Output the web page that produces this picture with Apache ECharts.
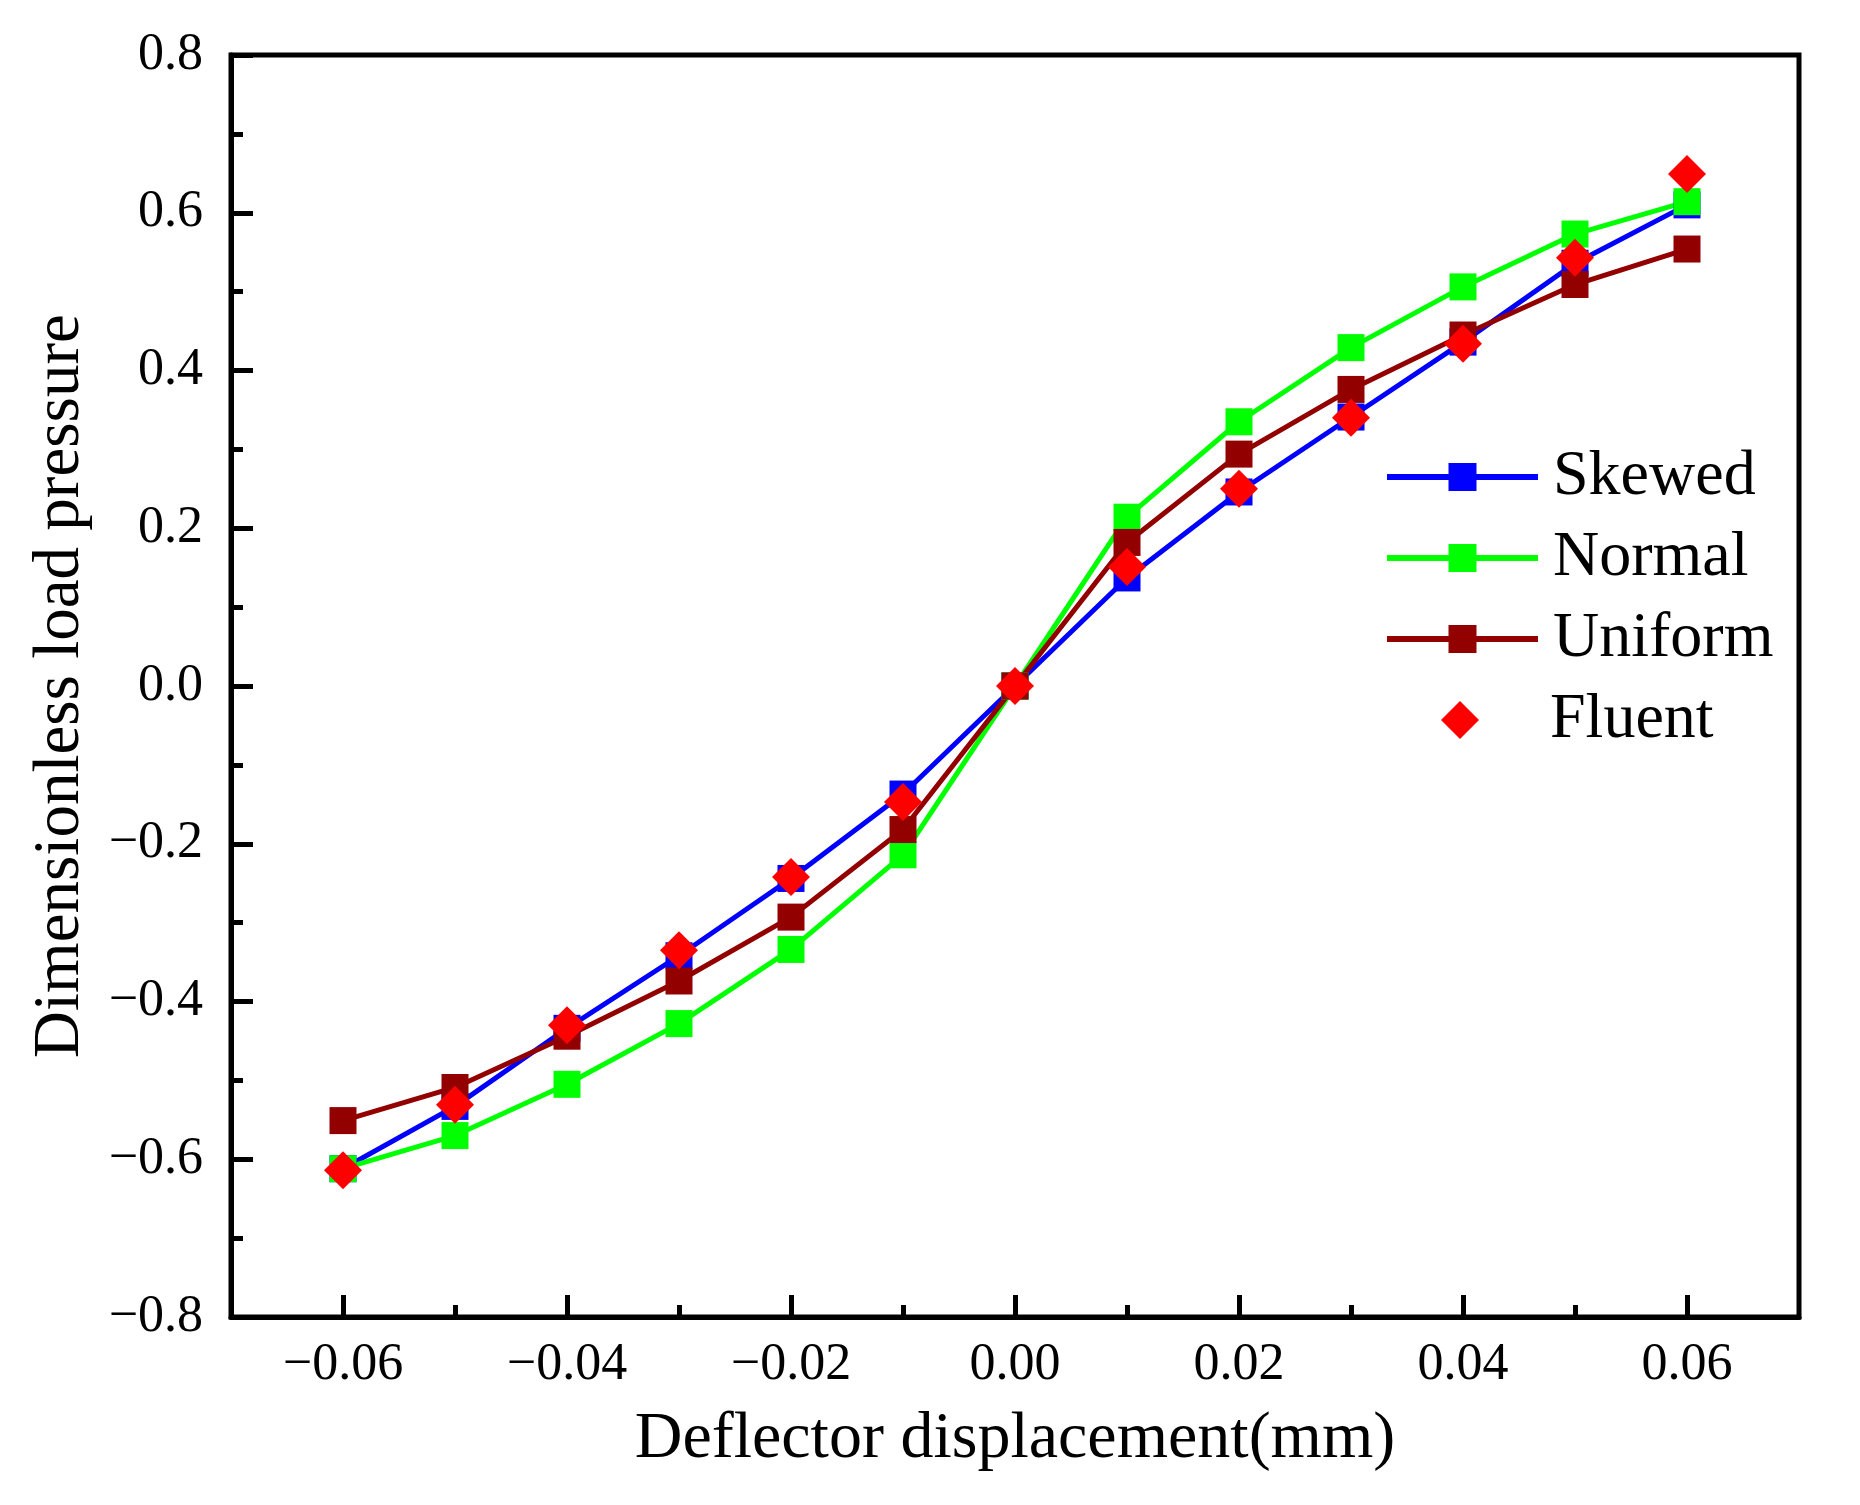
<!DOCTYPE html>
<html>
<head>
    <meta charset="utf-8">
    <script src="https://cdn.jsdelivr.net/npm/echarts@6.0.0/dist/echarts.min.js"></script>
</head>
<body style="margin:0;background:#fff;">
<div id="main" style="width: 1860px;height:1505px;"></div>

<script type="text/javascript">
    // data
    var displacement = [-0.06, -0.05, -0.04, -0.03, -0.02, -0.01, 0, 0.01, 0.02, 0.03, 0.04, 0.05, 0.06];
    var skewed  = [-0.612, -0.533, -0.434, -0.342, -0.244, -0.137, 0, 0.137, 0.246, 0.341, 0.436, 0.536, 0.610];
    var normal  = [-0.612, -0.570, -0.505, -0.428, -0.334, -0.214, 0, 0.214, 0.335, 0.429, 0.506, 0.573, 0.614];
    var uniform = [-0.551, -0.509, -0.444, -0.374, -0.293, -0.182, 0, 0.182, 0.294, 0.376, 0.445, 0.509, 0.554];
    var fluent  = [-0.614, -0.531, -0.430, -0.335, -0.242, -0.147, 0, 0.151, 0.250, 0.340, 0.434, 0.543, 0.649];

    var xMajorTicks = [-0.06, -0.04, -0.02, 0, 0.02, 0.04, 0.06];
    var xMinorTicks = [-0.05, -0.03, -0.01, 0.01, 0.03, 0.05];

    var FONT = "'Liberation Serif', 'Times New Roman', serif";

    function pairs(ys) {
        return displacement.map(function (x, i) { return [x, ys[i]]; });
    }
    function minus(s) { return s.replace('-', '\u2212'); }

    var myChart = echarts.init(document.getElementById('main'));

    var legendText = { fontFamily: FONT, fontSize: 64, color: '#000', lineHeight: 64 };

    var option = {
        animation: false,
        backgroundColor: '#fff',
        grid: {
            left: 231, top: 55, right: 61, bottom: 188,
            show: true, borderColor: '#000', borderWidth: 5
        },
        legend: [{
            // line series: line + square
            orient: 'vertical',
            left: 1384, top: 445, padding: 0,
            itemWidth: 151, itemHeight: 35, itemGap: 17,
            lineStyle: { width: 6 },
            textStyle: Object.assign({ padding: [0, 0, 0, 10] }, legendText),
            data: ['Skewed', 'Normal', 'Uniform']
        }, {
            // the Fluent diamond gets its own narrow slot
            orient: 'vertical',
            left: 1441, top: 445 + 3 * 81, padding: 0,
            itemWidth: 38, itemHeight: 38,
            textStyle: Object.assign({ padding: [0, 0, 0, 66] }, legendText),
            data: [{ name: 'Fluent', icon: 'diamond' }]
        }],
        xAxis: [{
            type: 'value',
            min: -0.07, max: 0.07,
            position: 'bottom',
            name: 'Deflector displacement(mm)',
            nameLocation: 'middle',
            nameGap: 90,
            nameTextStyle: { fontFamily: FONT, fontSize: 66, color: '#000', lineHeight: 66 },
            axisLine: { onZero: false, lineStyle: { color: '#000', width: 5 } },
            axisTick: { inside: true, length: 22, customValues: xMajorTicks, lineStyle: { color: '#000', width: 5 } },
            axisLabel: {
                customValues: xMajorTicks,
                margin: 22,
                fontFamily: FONT, fontSize: 52, color: '#000',
                formatter: function (v) { return minus(v.toFixed(2)); }
            },
            splitLine: { show: false }
        }, {
            type: 'value',
            min: -0.07, max: 0.07,
            position: 'bottom',
            axisLine: { show: false, onZero: false },
            axisTick: { inside: true, length: 12, customValues: xMinorTicks, lineStyle: { color: '#000', width: 5 } },
            axisLabel: { show: false },
            splitLine: { show: false }
        }],
        yAxis: {
            type: 'value',
            min: -0.8, max: 0.8, interval: 0.2,
            name: 'Dimensionless load pressure',
            nameLocation: 'middle',
            nameGap: 138,
            nameTextStyle: { fontFamily: FONT, fontSize: 65, color: '#000', lineHeight: 65 },
            axisLine: { onZero: false, lineStyle: { color: '#000', width: 5 } },
            axisTick: { inside: true, length: 22, lineStyle: { color: '#000', width: 5 } },
            minorTick: { show: true, splitNumber: 2, length: 12, lineStyle: { color: '#000', width: 5 } },
            axisLabel: {
                margin: 28,
                fontFamily: FONT, fontSize: 52, color: '#000',
                formatter: function (v) { return minus(v.toFixed(1)); }
            },
            splitLine: { show: false },
            minorSplitLine: { show: false }
        },
        series: [{
            name: 'Skewed', type: 'line',
            data: pairs(skewed),
            symbol: 'rect', symbolSize: 27,
            itemStyle: { color: '#0000ff' },
            lineStyle: { color: '#0000ff', width: 5 }
        }, {
            name: 'Normal', type: 'line',
            data: pairs(normal),
            symbol: 'rect', symbolSize: 27,
            itemStyle: { color: '#00ff00' },
            lineStyle: { color: '#00ff00', width: 5 }
        }, {
            name: 'Uniform', type: 'line',
            data: pairs(uniform),
            symbol: 'rect', symbolSize: 27,
            itemStyle: { color: '#930000' },
            lineStyle: { color: '#930000', width: 5 }
        }, {
            name: 'Fluent', type: 'scatter',
            data: pairs(fluent),
            z: 10,
            symbol: 'diamond', symbolSize: 38,
            itemStyle: { color: '#ff0000', opacity: 1 }
        }]
    };

    myChart.setOption(option);
</script>
</body>
</html>
